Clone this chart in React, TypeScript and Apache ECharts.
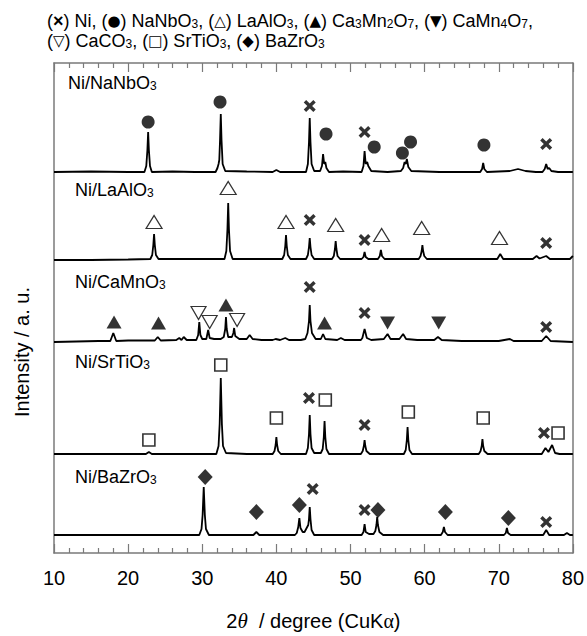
import React, { useEffect, useRef } from 'react';
import * as echarts from 'echarts';

const FONT = '"Liberation Sans", Arial, Helvetica, sans-serif';
const SYM_FONT = '"DejaVu Sans", sans-serif';

// Sample names (rich text, subscripts in {s|..})
const SAMPLE_LABELS = [
  '{n|Ni/NaNbO}{s|3}',
  '{n|Ni/LaAlO}{s|3}',
  '{n|Ni/CaMnO}{s|3}',
  '{n|Ni/SrTiO}{s|3}',
  '{n|Ni/BaZrO}{s|3}',
];

// Vertical offsets (a.u.) of each pattern in the stack
const OFFSETS = [381, 294, 212, 99, 18];

// 2θ (deg), relative intensity (a.u.)
const TRACE_NANBO: [number, number][] = [
  [10, 0], [15, 0.5], [20, 0],
  [22.2, 0], [22.45, 6], [22.6, 22], [22.7, 40], [22.8, 22], [22.95, 6], [23.2, 0],
  [26, 0.5], [29, 0],
  [31.8, 0], [32.05, 4], [32.2, 8], [32.3, 12], [32.4, 32], [32.5, 58], [32.6, 32], [32.75, 8], [33.1, 1],
  [36, 0.5], [39.5, 0], [40, 2], [40.5, 0],
  [44.0, 0], [44.25, 8], [44.4, 30], [44.5, 54], [44.6, 30], [44.75, 8], [45.1, 1],
  [45.9, 1], [46.15, 6], [46.3, 18], [46.45, 8], [46.6, 10], [46.75, 4], [47.1, 0],
  [49, 0.5],
  [51.5, 0], [51.75, 6], [51.9, 21], [52.05, 8], [52.25, 10], [52.4, 6], [52.8, 1],
  [55, 0],
  [56.8, 1], [57.1, 4], [57.3, 10], [57.45, 8], [57.6, 13], [57.8, 5], [58.2, 1],
  [62, 0], [65, 0],
  [67.5, 0], [67.75, 3], [67.9, 9], [68.05, 3], [68.4, 0],
  [71.5, 1], [72.6, 3], [73.6, 1], [75, 0],
  [75.9, 0], [76.2, 3], [76.4, 8], [76.6, 3], [76.8, 4], [77.1, 1], [78, 0], [80, 0],
];

const TRACE_LAALO: [number, number][] = [
  [10, -1], [15, -1], [20, -0.5],
  [23.0, 0], [23.25, 4], [23.4, 14], [23.5, 25], [23.6, 14], [23.75, 4], [24.1, 0],
  [28, 0],
  [33.0, 0], [33.25, 8], [33.4, 30], [33.5, 56], [33.6, 30], [33.75, 8], [34.1, 0],
  [38, 0],
  [40.8, 0], [41.05, 4], [41.2, 13], [41.3, 24], [41.4, 13], [41.55, 4], [41.9, 0],
  [44.0, 0], [44.25, 4], [44.4, 12], [44.5, 21], [44.6, 12], [44.75, 4], [45.1, 0],
  [47.5, 0], [47.75, 3], [47.9, 10], [48.0, 18], [48.1, 10], [48.25, 3], [48.6, 0],
  [51.5, 0], [51.75, 2], [51.9, 7], [52.05, 2], [52.4, 0],
  [53.7, 0], [53.95, 3], [54.1, 9], [54.25, 3], [54.6, 0],
  [59.2, 0], [59.45, 3], [59.6, 8], [59.7, 14], [59.8, 8], [59.95, 3], [60.3, 0],
  [65, 0],
  [69.8, 0], [70.2, 5], [70.6, 0],
  [74.6, 0], [75.1, 3], [75.5, 0.5], [76.4, 3], [76.9, 0], [79.6, 0], [80, 3],
];

const TRACE_CAMNO: [number, number][] = [
  [10, -1], [13, -0.5], [16, 0], [17.6, 0], [18.0, 8], [18.4, 0], [20, 0.5],
  [23.6, 0.5], [24.0, 4], [24.4, 0.5], [26.5, 1], [26.9, 3], [27.2, 1], [27.5, 4], [27.9, 1], [28.8, 1],
  [29.2, 1], [29.45, 6], [29.6, 19], [29.75, 6], [30.0, 2],
  [30.55, 2], [30.8, 11], [31.0, 3], [31.6, 2], [32.5, 2],
  [32.9, 4], [33.1, 12], [33.2, 24], [33.3, 12], [33.5, 4],
  [34.0, 4], [34.2, 8], [34.3, 13], [34.45, 5], [35.0, 2],
  [36.0, 2], [36.4, 6], [36.8, 2], [38, 1], [39.5, 1], [39.9, 2], [40.5, 1], [41.2, 3], [41.7, 1], [43.3, 1],
  [43.9, 2], [44.2, 8], [44.4, 20], [44.5, 36], [44.6, 20], [44.8, 8], [45.3, 2],
  [46.0, 2], [46.3, 7], [46.6, 2], [48.2, 1], [48.7, 3], [49.2, 1], [51.4, 1],
  [51.6, 3], [51.9, 12], [52.2, 3], [52.8, 1],
  [54.5, 2], [55.0, 7], [55.4, 2], [56.6, 2], [57.1, 7], [57.5, 2], [59, 1],
  [61.3, 1], [61.8, 4], [62.3, 1], [65, 0], [70, 0], [71.5, 2], [72, 0],
  [75.8, 0], [76.4, 5], [77, 0], [80, -1],
];

const TRACE_SRTIO: [number, number][] = [
  [10, 0], [15, 0], [20, 0], [22.4, 0], [22.8, 2], [23.2, 0], [28, 0],
  [31.9, 0], [32.2, 8], [32.35, 30], [32.5, 76], [32.65, 30], [32.8, 8], [33.2, 1],
  [36, 0],
  [39.5, 0], [39.75, 3], [39.9, 9], [40.0, 17], [40.1, 9], [40.25, 3], [40.6, 0],
  [44.0, 0], [44.25, 6], [44.4, 20], [44.5, 39], [44.6, 20], [44.75, 6], [45.1, 1],
  [46.0, 1], [46.25, 5], [46.4, 17], [46.5, 33], [46.6, 17], [46.75, 5], [47.1, 0],
  [51.4, 0], [51.65, 3], [51.8, 8], [51.9, 14], [52.0, 8], [52.15, 3], [52.6, 0],
  [57.2, 0], [57.45, 4], [57.6, 14], [57.7, 27], [57.8, 14], [57.95, 4], [58.3, 0],
  [63, 0],
  [67.3, 0], [67.55, 3], [67.7, 8], [67.8, 15], [67.9, 8], [68.05, 3], [68.5, 0],
  [72, 0], [75.8, 0], [76.3, 6], [76.7, 2], [77.2, 9], [77.6, 1], [78.2, 0], [80, 0],
];

const TRACE_BAZRO: [number, number][] = [
  [10, 0], [20, 0], [25, 0],
  [29.6, 0], [29.9, 6], [30.05, 20], [30.2, 48], [30.35, 20], [30.5, 6], [30.9, 0],
  [35, 0], [36.9, 0], [37.3, 3], [37.7, 0], [42.5, 0],
  [42.75, 2], [42.95, 8], [43.1, 17], [43.25, 7], [43.55, 3],
  [43.8, 3], [44.3, 10], [44.4, 16], [44.5, 28], [44.6, 16], [44.75, 5], [45.1, 0],
  [50, 0], [51.5, 0], [51.75, 3], [51.9, 11], [52.05, 3], [52.5, 1],
  [53.1, 1], [53.35, 4], [53.5, 10], [53.6, 18], [53.7, 10], [53.9, 3], [54.4, 0],
  [60, 0], [62.2, 0], [62.45, 3], [62.6, 8], [62.75, 3], [63.1, 0],
  [70.7, 0], [70.95, 2], [71.1, 7], [71.25, 2], [71.6, 0],
  [76.0, 0], [76.4, 5], [76.8, 0], [78.8, 0], [79.2, 2], [79.6, 0], [80, 0],
];

const TRACES = [TRACE_NANBO, TRACE_LAALO, TRACE_CAMNO, TRACE_SRTIO, TRACE_BAZRO];

// Phase markers: [2θ, stacked intensity]
const MARK_NI: [number, number][] = [
  [44.5, 447], [51.9, 421], [76.4, 409],
  [44.5, 333], [51.9, 313], [76.4, 310],
  [44.5, 266], [51.9, 240], [76.4, 226],
  [44.4, 155], [51.9, 128], [76.1, 120],
  [44.9, 64], [51.9, 43], [76.4, 31],
];
const MARK_NANBO3: [number, number][] = [
  [22.7, 431], [32.4, 451], [46.7, 419], [53.2, 406], [57.0, 400], [58.1, 411], [68.0, 408],
];
const MARK_LAALO3: [number, number][] = [
  [23.5, 331], [33.5, 365], [41.3, 331], [48.0, 328], [54.2, 318], [59.6, 325], [70.1, 315],
];
const MARK_CA3MN2O7: [number, number][] = [[18.1, 231], [24.1, 230], [33.2, 248], [46.5, 230]];
const MARK_CAMN4O7: [number, number][] = [[55.0, 230], [61.9, 230]];
const MARK_CACO3: [number, number][] = [[29.5, 240], [31.0, 231], [34.7, 233]];
const MARK_SRTIO3: [number, number][] = [
  [22.8, 113], [32.5, 188], [40.0, 135], [46.6, 153], [57.8, 141], [67.9, 135], [78.0, 120],
];
const MARK_BAZRO3: [number, number][] = [
  [30.4, 76], [37.3, 41], [43.1, 48], [53.7, 43], [62.8, 41], [71.3, 35],
];

const X_PATH = 'path://M0,2L2,0L5,3L8,0L10,2L7,5L10,8L8,10L5,7L2,10L0,8L3,5Z';

const richText = {
  n: { fontSize: 18, fontFamily: FONT, color: '#000', verticalAlign: 'bottom', lineHeight: 18 },
  s: { fontSize: 12, fontFamily: FONT, color: '#000', verticalAlign: 'bottom', lineHeight: 10 },
  x: { fontSize: 18, fontFamily: FONT, fontWeight: 'bold', color: '#000', verticalAlign: 'bottom', lineHeight: 18 },
  g: {
    fontSize: 15,
    fontFamily: SYM_FONT,
    color: '#000',
    verticalAlign: 'bottom',
    lineHeight: 16,
    padding: [0, 0, 2, 0],
  },
};

const HEADER_1 =
  '{n|(}{x|×}{n|) Ni, (}{g|●}{n|) NaNbO}{s|3}{n|, (}{g|△}{n|) LaAlO}{s|3}{n|, (}{g|▲}{n|) Ca}{s|3}{n|Mn}{s|2}{n|O}{s|7}{n|, (}{g|▼}{n|) CaMn}{s|4}{n|O}{s|7}{n|,}';
const HEADER_2 =
  '{n|(}{g|▽}{n|) CaCO}{s|3}{n|, (}{g|□}{n|) SrTiO}{s|3}{n|, (}{g|◆}{n|) BaZrO}{s|3}';

export default function App() {
  const ref = useRef<HTMLDivElement>(null);

  useEffect(() => {
    if (!ref.current) return;
    const chart = echarts.init(ref.current, undefined, { renderer: 'svg' });

    const lineSeries = TRACES.map((t, i) => ({
      type: 'line',
      name: SAMPLE_LABELS[i],
      data: t.map(([x, y]) => [x, y + OFFSETS[i]]),
      symbol: 'none',
      showSymbol: false,
      lineStyle: { color: '#000', width: 1.8 },
      z: 2,
      silent: true,
    }));

    const filled = { color: '#000' };
    const open = { color: '#fff', borderColor: '#000', borderWidth: 1.2 };

    const markerSeries = [
      { name: 'Ni', data: MARK_NI, symbol: X_PATH, symbolSize: 12, itemStyle: filled },
      { name: 'NaNbO3', data: MARK_NANBO3, symbol: 'circle', symbolSize: 13, itemStyle: filled },
      { name: 'LaAlO3', data: MARK_LAALO3, symbol: 'triangle', symbolSize: [16, 13], itemStyle: open },
      { name: 'Ca3Mn2O7', data: MARK_CA3MN2O7, symbol: 'triangle', symbolSize: [15, 13], itemStyle: filled },
      { name: 'CaMn4O7', data: MARK_CAMN4O7, symbol: 'triangle', symbolSize: [15, 13], symbolRotate: 180, itemStyle: filled },
      { name: 'CaCO3', data: MARK_CACO3, symbol: 'triangle', symbolSize: [15, 13], symbolRotate: 180, itemStyle: open },
      { name: 'SrTiO3', data: MARK_SRTIO3, symbol: 'rect', symbolSize: 12, itemStyle: { ...open, borderWidth: 1.6 } },
      { name: 'BaZrO3', data: MARK_BAZRO3, symbol: 'diamond', symbolSize: [15, 16], itemStyle: filled },
    ].map((s) => ({ type: 'scatter', z: 3, silent: true, ...s }));

    const axisColor = '#7a7a7a';
    const commonX = {
      type: 'value',
      min: 10,
      max: 80,
      interval: 10,
      axisLine: { show: true, onZero: false, lineStyle: { color: axisColor, width: 1.5 } },
      axisTick: { show: true, inside: true, length: 9, lineStyle: { color: axisColor, width: 1.2 } },
      minorTick: { show: true, splitNumber: 5, length: 5, lineStyle: { color: axisColor, width: 1.2 } },
      splitLine: { show: false },
      minorSplitLine: { show: false },
    };

    const labelGraphics = SAMPLE_LABELS.map((txt, i) => ({
      type: 'text',
      x: [68, 75, 75, 75, 75][i],
      y: [83, 190, 282, 362, 477][i],
      style: { text: txt, rich: richText, verticalAlign: 'middle', textAlign: 'left' },
      z: 10,
    }));

    chart.setOption({
      animation: false,
      backgroundColor: '#fff',
      grid: { left: 54, right: 13, top: 63, bottom: 83, containLabel: false },
      xAxis: [
        {
          ...commonX,
          position: 'bottom',
          axisLabel: { fontSize: 20, color: '#000', fontFamily: FONT, margin: 15 },
          name: '{n|2}{i|θ}{n|  / degree (CuK}{a|α}{n|)}',
          nameLocation: 'middle',
          nameGap: 57,
          nameTextStyle: {
            rich: {
              n: { fontSize: 20, fontFamily: FONT, color: '#000' },
              i: { fontSize: 21, fontFamily: '"Liberation Serif", serif', fontStyle: 'italic', color: '#000' },
              a: { fontSize: 20, fontFamily: '"Liberation Serif", serif', color: '#000' },
            },
          },
        },
        { ...commonX, position: 'top', axisLabel: { show: false } },
      ],
      yAxis: [
        {
          type: 'value',
          min: 0,
          max: 490,
          position: 'left',
          axisLine: { show: true, lineStyle: { color: axisColor, width: 1.5 } },
          axisTick: { show: false },
          axisLabel: { show: false },
          splitLine: { show: false },
        },
        {
          type: 'value',
          min: 0,
          max: 490,
          position: 'right',
          axisLine: { show: true, lineStyle: { color: axisColor, width: 1.5 } },
          axisTick: { show: false },
          axisLabel: { show: false },
          splitLine: { show: false },
        },
      ],
      series: [...lineSeries, ...markerSeries],
      graphic: [
        {
          type: 'text',
          x: 47,
          y: 21,
          style: { text: HEADER_1, rich: richText, verticalAlign: 'middle', textAlign: 'left' },
        },
        {
          type: 'text',
          x: 47,
          y: 41,
          style: { text: HEADER_2, rich: richText, verticalAlign: 'middle', textAlign: 'left' },
        },
        {
          type: 'text',
          x: 22,
          y: 352,
          rotation: Math.PI / 2,
          style: {
            text: 'Intensity / a. u.',
            fontSize: 20,
            fontFamily: FONT,
            fill: '#000',
            textAlign: 'center',
            verticalAlign: 'middle',
          },
        },
        ...labelGraphics,
      ],
    });

    return () => chart.dispose();
  }, []);

  return (
    <div
      ref={ref}
      style={{ position: 'fixed', left: 0, top: 0, width: 587, height: 636, background: '#fff' }}
    />
  );
}
